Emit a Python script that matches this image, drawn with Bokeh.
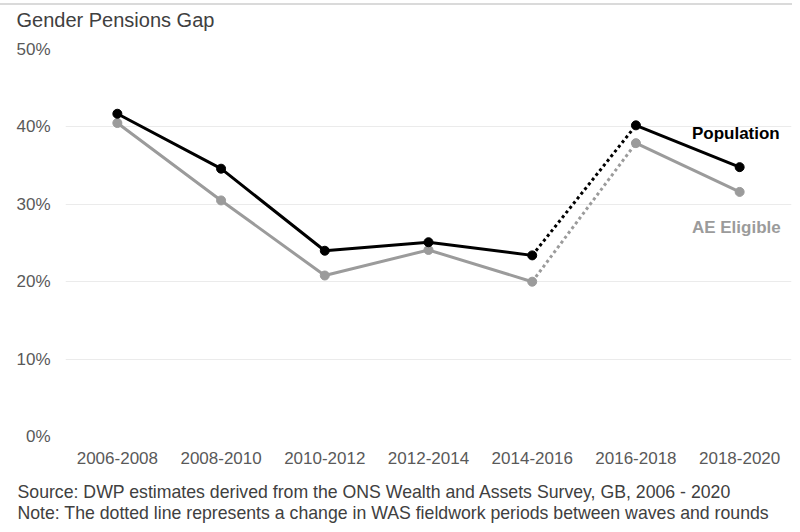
from bokeh.plotting import figure
from bokeh.models import FactorRange, Range1d, FixedTicker, PrintfTickFormatter, Label, Title
from bokeh.embed import file_html
from bokeh.resources import INLINE

# ---- data ----
periods = ["2006-2008", "2008-2010", "2010-2012", "2012-2014", "2014-2016", "2016-2018", "2018-2020"]
population = [41.7, 34.6, 24.0, 25.1, 23.4, 40.2, 34.8]
ae_eligible = [40.5, 30.5, 20.8, 24.1, 20.0, 37.9, 31.6]
y_ticks = [0, 10, 20, 30, 40, 50]
title_text = "Gender Pensions Gap"
source_lines = [
    "Source: DWP estimates derived from the ONS Wealth and Assets Survey, GB, 2006 - 2020",
    "Note: The dotted line represents a change in WAS fieldwork periods between waves and rounds",
]
break_index = 4  # dotted segment between periods[4] and periods[5]

FONT = "Liberation Sans"
BLACK = "#000000"
GREY = "#9b9b9b"

p = figure(
    width=792, height=524,
    x_range=FactorRange(*periods), y_range=Range1d(0, 50),
    output_backend="svg", toolbar_location=None,
    min_border_left=65, min_border_right=1, min_border_top=49, min_border_bottom=88,
)
p.outline_line_color = None
p.background_fill_color = "white"
p.border_fill_color = None
p.styles = {"background": "linear-gradient(to bottom, #ffffff 0px, #ffffff 3px, #dadada 3px, #dadada 5px, #ffffff 5px, #ffffff 100%)"}

# title (outermost above panel) + a thin spacer panel between it and the plot area
p.title = Title(text=title_text, align="left", offset=-49, standoff=0,
                text_font=FONT, text_font_size="20px", text_font_style="normal",
                text_color="#404040")
p.add_layout(Title(text=" ", text_font_size="1px", standoff=16), "above")

# axes
p.yaxis.ticker = FixedTicker(ticks=y_ticks)
p.yaxis.formatter = PrintfTickFormatter(format="%d%%")
for ax in (p.xaxis[0], p.yaxis[0]):
    ax.axis_line_color = None
    ax.major_tick_line_color = None
    ax.minor_tick_line_color = None
    ax.major_tick_in = 0
    ax.major_tick_out = 0
    ax.major_label_text_font = FONT
    ax.major_label_text_font_size = "17px"
    ax.major_label_text_color = "#595959"
p.yaxis.major_label_standoff = 15
p.xaxis.major_label_standoff = 15

p.xgrid.grid_line_color = None
p.ygrid.grid_line_color = "#ebebeb"
p.ygrid.grid_line_width = 1
p.ygrid.ticker = FixedTicker(ticks=y_ticks)

def draw(series, color):
    b = break_index
    p.line(periods[: b + 1], series[: b + 1], line_color=color, line_width=3)
    p.line(periods[b:b + 2], series[b:b + 2], line_color=color, line_width=3, line_dash="3 3")
    p.line(periods[b + 1:], series[b + 1:], line_color=color, line_width=3)
    p.scatter(periods, series, size=9, fill_color=color, line_color=color)

draw(ae_eligible, GREY)
draw(population, BLACK)

# series labels
p.add_layout(Label(x=6.04, y=39.1, text="Population", text_font=FONT, text_font_size="17px",
                   text_font_style="bold", text_color=BLACK, text_baseline="alphabetic"))
p.add_layout(Label(x=6.04, y=27.0, text="AE Eligible", text_font=FONT, text_font_size="17px",
                   text_font_style="bold", text_color=GREY, text_baseline="alphabetic"))

# spacer below the axis, then the two-line source note
p.add_layout(Title(text=" ", text_font_size="1px", standoff=11), "below")
p.add_layout(Title(text="\n".join(source_lines), align="left", offset=-48, standoff=0,
                   text_font=FONT, text_font_size="17.7px", text_font_style="normal",
                   text_color="#404040", text_line_height=1.06), "below")

open("out.html", "w").write(file_html(p, INLINE))
